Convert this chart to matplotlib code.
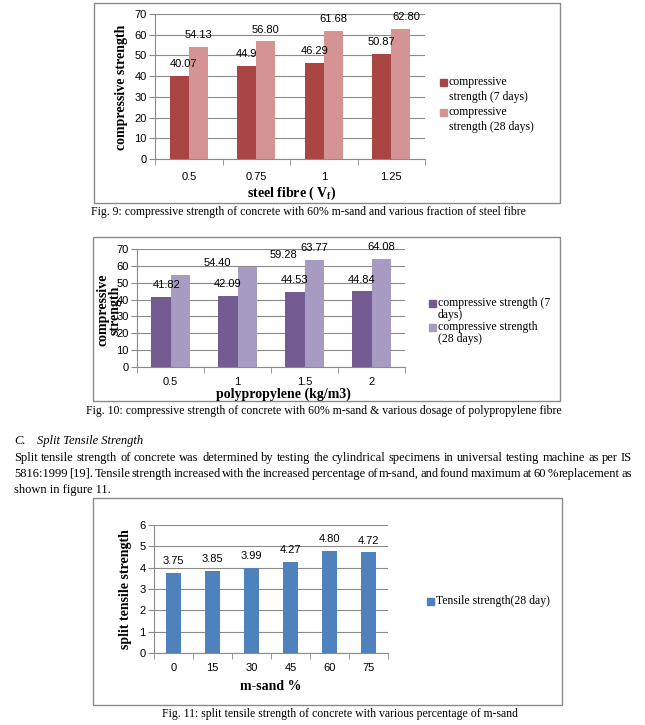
import numpy as np
import matplotlib
matplotlib.use("Agg")
import matplotlib.pyplot as plt
from matplotlib.patches import Rectangle

# DONNÉES

# Fig. 9 : fibres d'acier
steel_fibre = ["0.5", "0.75", "1", "1.25"]
steel_7d = [40.07, 44.9, 46.29, 50.87]
steel_28d = [54.13, 56.80, 61.68, 62.80]
steel_7d_lbl = ["40.07", "44.9", "46.29", "50.87"]
steel_28d_lbl = ["54.13", "56.80", "61.68", "62.80"]

# Fig. 10 : polypropylène
pp_dosage = ["0.5", "1", "1.5", "2"]
pp_7d = [41.82, 42.09, 44.53, 44.84]
pp_28d = [54.40, 59.28, 63.77, 64.08]
pp_7d_lbl = ["41.82", "42.09", "44.53", "44.84"]
pp_28d_lbl = ["54.40", "59.28", "63.77", "64.08"]

# Fig. 11 : traction par fendage
msand = ["0", "15", "30", "45", "60", "75"]
tensile_28d = [3.75, 3.85, 3.99, 4.27, 4.80, 4.72]
tensile_lbl = ["3.75", "3.85", "3.99", "4.27", "4.80", "4.72"]

# STYLE

W, H = 645, 725
GRID = "#8a8a8a"
SANS = "Liberation Sans"
SERIF = "Liberation Serif"

RED_DARK, RED_LIGHT = "#a94543", "#d49493"
PURPLE_DARK, PURPLE_LIGHT = "#735a91", "#a79bc2"
BLUE = "#4f81bd"


def fy(y):
    return 1 - y / H


def add_axes_px(fig, x0, y0, x1, y1):
    return fig.add_axes([x0 / W, 1 - y1 / H, (x1 - x0) / W, (y1 - y0) / H])


def style_axes(ax, labels, ymax, ystep, xpad):
    n = len(labels)
    ax.set_xlim(-0.5, n - 0.5)
    ax.set_ylim(0, ymax)
    ax.set_yticks(np.arange(0, ymax + ystep / 2, ystep))
    ax.set_xticks(range(n))
    ax.set_xticklabels(labels)
    ax.set_xticks(np.arange(-0.5, n), minor=True)
    ax.tick_params(axis="x", which="major", length=0, pad=xpad, labelsize=8)
    ax.tick_params(axis="x", which="minor", length=4, color=GRID)
    ax.tick_params(axis="y", length=4, color=GRID, pad=2, labelsize=8)
    for lbl in ax.get_xticklabels() + ax.get_yticklabels():
        lbl.set_family(SANS)
    for s in ["top", "right"]:
        ax.spines[s].set_visible(False)
    ax.spines["left"].set_color(GRID)
    ax.spines["bottom"].set_color(GRID)
    ax.yaxis.grid(True, color=GRID, linewidth=0.8)
    ax.set_axisbelow(True)


def bar_labels(ax, xs, ys, labels, shifts=None):
    shifts = shifts or [0] * len(xs)
    for x, y, t, dx in zip(xs, ys, labels, shifts):
        ax.annotate(t, (x, y), xytext=(dx, 8.5), textcoords="offset points",
                    ha="center", va="center", fontsize=8, family=SANS)


def frame(fig, x0, y0, x1, y1):
    fig.patches.append(Rectangle((x0 / W, fy(y1)), (x1 - x0) / W, (y1 - y0) / H,
                                 transform=fig.transFigure, fill=False,
                                 edgecolor=GRID, linewidth=1))


def legend_px(fig, xm, entries, line_h):
    # entries : (y de la première ligne, lignes, couleur)
    for y, lines, color in entries:
        fig.patches.append(Rectangle((xm / W, fy(y + 3.5)), 7 / W, 7 / H,
                                     transform=fig.transFigure, color=color))
        for i, line in enumerate(lines):
            fig.text((xm + 9) / W, fy(y + i * line_h), line, fontsize=8.5,
                     family=SERIF, va="center", ha="left")


def justified_line(fig, text, x0, x1, y, size):
    words = text.split()
    r = fig.canvas.get_renderer()
    arts = [fig.text(0, fy(y), w, fontsize=size, family=SERIF, va="center")
            for w in words]
    widths = [a.get_window_extent(r).width for a in arts]
    gap = (x1 - x0 - sum(widths)) / (len(words) - 1)
    x = x0
    for a, w in zip(arts, widths):
        a.set_x(x / W)
        x += w + gap


fig = plt.figure(figsize=(W / 100, H / 100), dpi=100)

# FIG. 9
frame(fig, 94, 3, 560, 203)
ax1 = add_axes_px(fig, 155, 14, 425, 159)
x = np.arange(len(steel_fibre))
bw = 0.285
ax1.bar(x - bw / 2, steel_7d, bw, color=RED_DARK)
ax1.bar(x + bw / 2, steel_28d, bw, color=RED_LIGHT)
style_axes(ax1, steel_fibre, 70, 10, 9)
bar_labels(ax1, x - bw / 2, steel_7d, steel_7d_lbl, [3, 0, 0, 0])
bar_labels(ax1, x + bw / 2, steel_28d, steel_28d_lbl, [0, 0, 0, 4])
fig.text(122 / W, fy(87), "compressive strength", rotation=90, fontsize=10,
         fontweight="bold", family=SERIF, ha="center", va="center")
fig.text(292 / W, fy(193), r"steel fibre ( V$_\mathregular{f}$)", fontsize=10,
         fontweight="bold", family=SERIF, ha="center", va="center")
legend_px(fig, 440, [(82, ["compressive", "strength (7 days)"], RED_DARK),
                     (112, ["compressive", "strength (28 days)"], RED_LIGHT)], 15)
fig.text(308 / W, fy(212), "Fig. 9: compressive strength of concrete with 60% "
         "m-sand and various fraction of steel fibre", fontsize=8.5,
         family=SERIF, ha="center", va="center")

# FIG. 10
frame(fig, 93, 237, 560, 401)
ax2 = add_axes_px(fig, 137, 249, 405, 367)
x = np.arange(len(pp_dosage))
bw = 0.29
ax2.bar(x - bw / 2, pp_7d, bw, color=PURPLE_DARK)
ax2.bar(x + bw / 2, pp_28d, bw, color=PURPLE_LIGHT)
style_axes(ax2, pp_dosage, 70, 10, 7.5)
bar_labels(ax2, x - bw / 2, pp_7d, pp_7d_lbl, [4.5, 0, 0, 0])
bar_labels(ax2, x + bw / 2, pp_28d, pp_28d_lbl, [27, 26, 0, 0])
fig.text(109 / W, fy(310), "compressive\nstrength", rotation=90, fontsize=10,
         fontweight="bold", family=SERIF, ha="center", va="center",
         linespacing=0.95)
fig.text(283 / W, fy(394), "polypropylene (kg/m3)", fontsize=10,
         fontweight="bold", family=SERIF, ha="center", va="center")
legend_px(fig, 429, [(303, ["compressive strength (7", "days)"], PURPLE_DARK),
                     (327, ["compressive strength", "(28 days)"], PURPLE_LIGHT)], 12)
fig.text(324 / W, fy(411), "Fig. 10: compressive strength of concrete with 60% "
         "m-sand & various dosage of polypropylene fibre", fontsize=8.5,
         family=SERIF, ha="center", va="center")

# TEXTE
fig.text(14 / W, fy(441), "C.", fontsize=9, family=SERIF, style="italic",
         va="center")
fig.text(37 / W, fy(441), "Split Tensile Strength", fontsize=9, family=SERIF,
         style="italic", va="center")
justified_line(fig, "Split tensile strength of concrete was determined by testing "
               "the cylindrical specimens in universal testing machine as per IS",
               14, 632, 458, 9)
justified_line(fig, "5816:1999 [19]. Tensile strength increased with the increased "
               "percentage of m-sand, and found maximum at 60 % replacement as",
               14, 632, 474, 9)
fig.text(14 / W, fy(490), "shown in figure 11.", fontsize=9, family=SERIF,
         va="center")

# FIG. 11
frame(fig, 93, 498, 562, 705)
ax3 = add_axes_px(fig, 154, 525, 388, 653)
x = np.arange(len(msand))
ax3.bar(x, tensile_28d, 0.41, color=BLUE)
style_axes(ax3, msand, 6, 1, 7.5)
bar_labels(ax3, x, tensile_28d, tensile_lbl)
fig.text(125 / W, fy(589), "split tensile strength", rotation=90, fontsize=10,
         fontweight="bold", family=SERIF, ha="center", va="center")
fig.text(271 / W, fy(686), "m-sand %", fontsize=10, fontweight="bold",
         family=SERIF, ha="center", va="center")
legend_px(fig, 427, [(601, ["Tensile strength(28 day)"], BLUE)], 12)
fig.text(340 / W, fy(714), "Fig. 11: split tensile strength of concrete with "
         "various percentage of m-sand", fontsize=8.5, family=SERIF,
         ha="center", va="center")

fig.savefig("out.png", dpi=100)
